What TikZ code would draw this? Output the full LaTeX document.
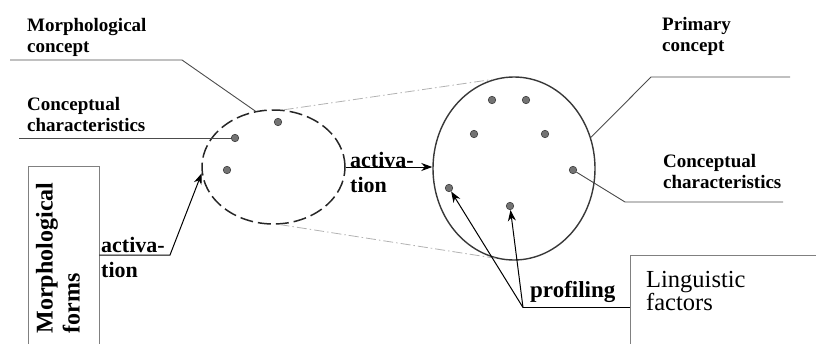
\documentclass[tikz,border=0pt]{standalone}
\usepackage{fontspec}
\setmainfont{Liberation Serif}
\usetikzlibrary{arrows.meta,shapes.geometric}
\begin{document}
\begin{tikzpicture}[x=1pt,y=-1pt,
 lbl/.style={inner sep=0pt, align=left, font=\bfseries\fontsize{19}{21.5}\selectfont},
 big/.style={inner sep=0pt, align=left, font=\bfseries\fontsize{22}{25}\selectfont},
 dot/.style={circle, inner sep=0pt, minimum size=7.5pt, fill=black!55, draw=black!75, line width=0.6pt},
 leader/.style={draw=black!70, line width=0.9pt},
 arr/.style={-{Stealth[length=11pt,width=8pt,inset=3.5pt]}, line width=1pt},
 dashdot/.style={draw=black!30, line width=0.8pt, dash pattern=on 10pt off 3pt on 1.5pt off 3pt},
 boxst/.style={draw=black!50, line width=0.9pt, rectangle, inner sep=0pt}]
\useasboundingbox (0,0) rectangle (816,343);
\clip (0,0) rectangle (816,343);
% ellipses
\node[ellipse, draw=black!85, line width=1.5pt, dash pattern=on 13pt off 5pt, minimum width=143pt, minimum height=114pt, inner sep=0pt] (me) at (273.5,167) {};
\node[ellipse, draw=black!78, line width=1.4pt, minimum width=162pt, minimum height=183pt, inner sep=0pt] (pe) at (514,168.5) {};
% dots
\node[dot] (a1) at (278,122) {};
\node[dot] (a2) at (235,138) {};
\node[dot] (a3) at (227,170) {};
\node[dot] (b1) at (492,100) {};
\node[dot] (b2) at (526,100) {};
\node[dot] (b3) at (474,134) {};
\node[dot] (b4) at (545,134) {};
\node[dot] (b5) at (573,170) {};
\node[dot] (b6) at (449,188) {};
\node[dot] (b7) at (510,206) {};
% boxes
\node[boxst, minimum width=71pt, minimum height=194pt] (mfbox) at (63.5,263) {};
\node[boxst, minimum width=200pt, minimum height=105pt] (lfbox) at (730,307.5) {};
% texts
\node[lbl, anchor=north west] (t1) at (27,18) {Morphological\\concept};
\node[lbl, anchor=north west] (t2) at (27,97) {Conceptual\\characteristics};
\node[lbl, anchor=north west] (t3) at (662,17) {Primary\\concept};
\node[lbl, anchor=north west] (t4) at (663,154) {Conceptual\\characteristics};
\node[big, anchor=north west] (t5) at (101,237) {activa-\\tion};
\node[big, anchor=north west] (t6) at (350,152) {activa-\\tion};
\node[inner sep=0pt, anchor=base west, font=\bfseries\fontsize{23}{25}\selectfont] (t7) at (530,297) {profiling};
\node[inner sep=0pt, anchor=north west, align=left, font=\fontsize{24.5}{23.5}\selectfont] (t8) at (646,271) {Linguistic\\factors};
\node[inner sep=0pt, rotate=90, align=left, font=\bfseries\fontsize{24}{27}\selectfont] (t9) at (58,258) {Morphological\\forms};
% dash-dot tangents
\draw[dashdot] (me.80) -- (pe.103);
\draw[dashdot] (me.276) -- (pe.258);
% leader lines
\coordinate (c1) at (10,60);
\coordinate (c2) at (182,60);
\draw[leader] (c1) -- (c2) -- (me.108);
\coordinate (c3) at (19,138);
\draw[leader] (c3) -- (a2);
\coordinate (c4) at (790,77);
\coordinate (c5) at (651,77);
\draw[leader] (c4) -- (c5) -- (pe.22.5);
\coordinate (c6) at (625,202);
\coordinate (c7) at (783,202);
\draw[leader] (b5) -- (c6) -- (c7);
% activation arrows
\coordinate (af) at (170,255);
\draw[arr] (af -| mfbox.east) -- (af) -- (me.185);
\draw[arr] (me.east) -- (me.east -| pe.west);
% profiling
\coordinate (pf) at (523,307.5);
\draw[line width=1pt] (lfbox.west) -- (pf);
\draw[arr] (pf) -- (b6);
\draw[arr] (pf) -- (b7);
\end{tikzpicture}
\end{document}
